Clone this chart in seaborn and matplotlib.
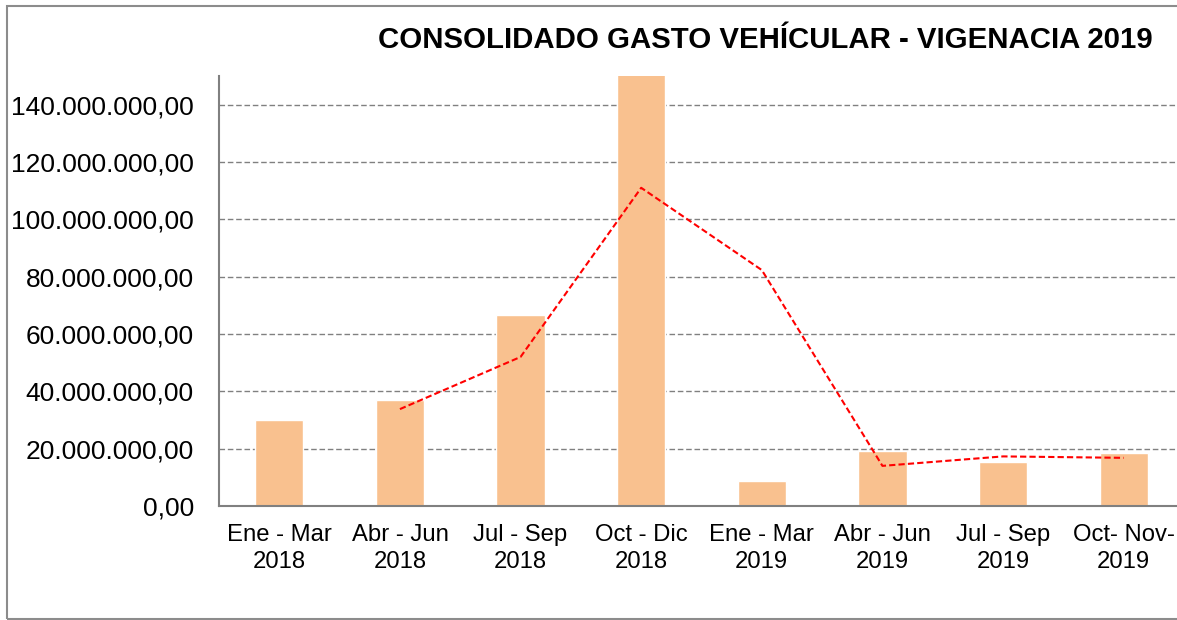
import numpy as np
import pandas as pd
import seaborn as sns
import matplotlib.pyplot as plt
from matplotlib.patches import Rectangle
from matplotlib.ticker import FuncFormatter

# data
periodos = ["Ene - Mar\n2018", "Abr - Jun\n2018", "Jul - Sep\n2018", "Oct - Dic\n2018",
            "Ene - Mar\n2019", "Abr - Jun\n2019", "Jul - Sep\n2019", "Oct- Nov-\n2019"]
gasto = [30.0e6, 37.0e6, 66.8e6, 155.0e6, 8.8e6, 19.2e6, 15.4e6, 18.5e6]

# dashed trend line (moving average shown in the source), starts at the 2nd period
tendencia_periodos = periodos[1:]
tendencia = [33.8e6, 52.0e6, 111.0e6, 82.3e6, 14.0e6, 17.3e6, 16.8e6]

titulo = "CONSOLIDADO GASTO VEHÍCULAR - VIGENACIA 2019"
y_ticks = [0, 20e6, 40e6, 60e6, 80e6, 100e6, 120e6, 140e6]

sns.set_style("white")
plt.rcParams['font.family'] = ['Liberation Sans', 'DejaVu Sans']
plt.rcParams['text.color'] = 'black'

fig = plt.figure(figsize=(11.77, 6.2), dpi=100)
ax = fig.add_axes([219 / 1177, 114 / 620, 965 / 1177, 430 / 620])

df = pd.DataFrame({"periodo": periodos, "gasto": gasto})
sns.barplot(data=df, x="periodo", y="gasto", color="#F9C18F", saturation=1,
            width=0.4, ax=ax, zorder=2)

pos = [periodos.index(p) for p in tendencia_periodos]
sns.lineplot(x=pos, y=tendencia, ax=ax, color="#FF0000", linestyle=(0, (3, 1.5)),
             linewidth=1.5, zorder=3)

ax.set_xlim(-0.5, len(periodos) - 0.5)
ax.set_ylim(0, 150e6)
ax.set_yticks(y_ticks)


def fmt_es(v, _):
    return f"{v:,.2f}".replace(",", "X").replace(".", ",").replace("X", ".")


ax.yaxis.set_major_formatter(FuncFormatter(fmt_es))
ax.grid(axis="y", color="#808080", linestyle=(0, (4, 2)), linewidth=1, zorder=1)
ax.set_axisbelow(True)
ax.set_xlabel("")
ax.set_ylabel("")
ax.tick_params(axis="y", length=0, pad=18, labelsize=19, labelcolor="black")
ax.tick_params(axis="x", length=0, pad=13, labelsize=17.2, labelcolor="black")
for lbl in ax.get_xticklabels():
    lbl.set_linespacing(1.32)

for s in ["top", "right"]:
    ax.spines[s].set_visible(False)
for s in ["left", "bottom"]:
    ax.spines[s].set_color("#808080")
    ax.spines[s].set_linewidth(1.5)
    ax.spines[s].set_zorder(4)

fig.text(765 / 1177, 1 - 40 / 620, titulo, ha="center", va="center",
         fontsize=21.2, fontweight="bold", color="black")

fig.patches.append(Rectangle((7 / 1177, 1.5 / 620), 1.2, 613 / 620,
                             transform=fig.transFigure, fill=False,
                             edgecolor="#8C8C8C", linewidth=1.5))

fig.savefig("out.png", dpi=100)
